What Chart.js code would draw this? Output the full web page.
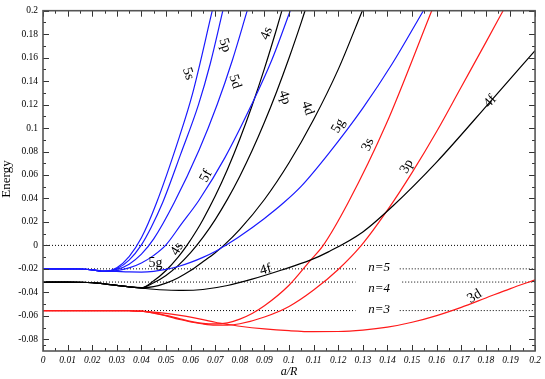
<!DOCTYPE HTML>
<html lang="en">
<head>
  <meta http-equiv="content-type" content="text/html; charset=UTF-8">
  <script src="https://cdn.jsdelivr.net/npm/chart.js"></script>
  <style>
    html, body { margin:0; padding:0; background:#fff; }
    canvas { display:block; }
  </style>
</head>
<body>
  <canvas id="chart" width="545" height="379" style="width:545px;height:379px"></canvas>

  <script>
    // Tick labels //
    const xTicks = [0, 0.01, 0.02, 0.03, 0.04, 0.05, 0.06, 0.07, 0.08, 0.09, 0.1,
                    0.11, 0.12, 0.13, 0.14, 0.15, 0.16, 0.17, 0.18, 0.19, 0.2];
    const yTicks = [-0.08, -0.06, -0.04, -0.02, 0, 0.02, 0.04, 0.06, 0.08, 0.1,
                    0.12, 0.14, 0.16, 0.18, 0.2];

    // Reference levels (dotted), [a/R, Energy], null = gap for the n label
    const zeroLine = [[0, 0], [0.2, 0]];
    const levelN5 = [[0, -0.02], [0.128, -0.02], [0.136, null], [0.145, -0.02], [0.2, -0.02]];
    const levelN4 = [[0, -0.03125], [0.127, -0.03125], [0.136, null], [0.146, -0.03125], [0.2, -0.03125]];
    const levelN3 = [[0, -0.05556], [0.127, -0.05556], [0.136, null], [0.145, -0.05556], [0.2, -0.05556]];

    // n = 5 (blue)
    const e5s = [[0,-0.02],[0.01,-0.02],[0.015,-0.0201],[0.02,-0.0208],[0.025,-0.0222],
      [0.03,-0.019],[0.035,-0.0095],[0.04,0.0065],[0.046,0.0355],[0.0554,0.0923],[0.0607,0.1287],[0.0688,0.2]];
    const e5p = [[0,-0.02],[0.01,-0.02],[0.015,-0.0201],[0.02,-0.0208],[0.025,-0.0222],
      [0.03,-0.0198],[0.035,-0.0125],[0.04,0.0005],[0.044,0.0155],[0.0486,0.0363],[0.056,0.078],[0.0632,0.12],[0.068,0.155],[0.0731,0.2]];
    const e5d = [[0,-0.02],[0.01,-0.02],[0.015,-0.0201],[0.02,-0.0208],[0.025,-0.0222],
      [0.03,-0.0205],[0.035,-0.016],[0.04,-0.0075],[0.045,0.0055],[0.0533,0.0363],[0.0634,0.081],[0.0708,0.12],[0.077,0.158],[0.083,0.2]];
    const e5f = [[0,-0.02],[0.01,-0.02],[0.015,-0.0201],[0.02,-0.0208],[0.025,-0.0222],
      [0.03,-0.0215],[0.035,-0.0192],[0.04,-0.015],[0.045,-0.0085],[0.05,0.0005],[0.056,0.0175],[0.0634,0.0385],
      [0.074,0.075],[0.0848,0.12],[0.093,0.158],[0.1005,0.2]];
    const e5g = [[0,-0.02],[0.01,-0.02],[0.015,-0.0201],[0.02,-0.0208],[0.025,-0.0218],
      [0.03,-0.0222],[0.035,-0.0226],[0.04,-0.0227],[0.045,-0.0221],[0.05,-0.0205],[0.055,-0.018],[0.06,-0.0145],
      [0.065,-0.0102],[0.07,-0.0052],[0.0742,0],[0.08,0.0078],[0.09,0.023],[0.0978,0.0363],[0.105,0.0505],
      [0.116,0.078],[0.13,0.117],[0.142,0.155],[0.1546,0.2]];

    // n = 4 (black)
    const e4s = [[0,-0.03125],[0.01,-0.03125],[0.015,-0.0314],[0.02,-0.0318],[0.025,-0.0328],[0.03,-0.0341],[0.035,-0.0354],
      [0.04,-0.0362],[0.045,-0.0302],[0.05,-0.0214],[0.055,-0.0098],[0.0585,0],[0.0625,0.0129],[0.065,0.0219],
      [0.07,0.042],[0.075,0.0649],[0.08,0.0906],[0.085,0.1192],[0.09,0.1506],[0.095,0.1848],[0.0971,0.2]];
    const e4p = [[0,-0.03125],[0.01,-0.03125],[0.015,-0.0314],[0.02,-0.0318],[0.025,-0.0328],[0.03,-0.0341],[0.035,-0.0354],
      [0.04,-0.036],[0.045,-0.0318],[0.05,-0.0256],[0.055,-0.017],[0.06,-0.0062],[0.065,0.0068],[0.07,0.022],
      [0.075,0.0394],[0.08,0.059],[0.085,0.0808],[0.09,0.1049],[0.095,0.1312],[0.1,0.1597],[0.105,0.1903],[0.1065,0.2]];
    const e4d = [[0,-0.03125],[0.01,-0.03125],[0.015,-0.0314],[0.02,-0.0318],[0.025,-0.0328],[0.03,-0.0341],[0.035,-0.0354],
      [0.04,-0.0362],[0.045,-0.0352],[0.05,-0.0322],[0.055,-0.0275],[0.06,-0.0215],[0.065,-0.014],[0.07,-0.0062],
      [0.0735,0],[0.08,0.0136],[0.09,0.0391],[0.1,0.0704],[0.11,0.1073],[0.12,0.15],[0.1298,0.2]];
    const e4f = [[0,-0.03125],[0.01,-0.03125],[0.015,-0.0314],[0.02,-0.0318],[0.025,-0.0328],[0.03,-0.0341],[0.035,-0.0354],
      [0.04,-0.0364],[0.045,-0.0374],[0.05,-0.038],[0.0567,-0.0384],[0.065,-0.0376],[0.075,-0.0342],[0.085,-0.0288],
      [0.097,-0.021],[0.1086,-0.0126],[0.116,-0.0055],[0.13,0.0115],[0.1422,0.0336],[0.16,0.071],[0.182,0.123],[0.2,0.166]];

    // n = 3 (red)
    const e3s = [[0,-0.05556],[0.02,-0.05556],[0.03,-0.0556],[0.035,-0.0557],[0.04,-0.0561],
      [0.045,-0.0575],[0.05,-0.0597],[0.055,-0.0622],[0.06,-0.0647],[0.065,-0.0664],[0.07,-0.0669],[0.075,-0.066],
      [0.08,-0.0628],[0.085,-0.058],[0.09,-0.0515],[0.1,-0.034],[0.1086,-0.013],[0.1139,0],[0.124,0.0363],
      [0.1395,0.1034],[0.158,0.2]];
    const e3p = [[0,-0.05556],[0.02,-0.05556],[0.03,-0.0556],[0.035,-0.0557],[0.04,-0.0561],
      [0.045,-0.0577],[0.05,-0.0601],[0.055,-0.0628],[0.06,-0.0653],[0.065,-0.067],[0.07,-0.0679],[0.075,-0.0679],
      [0.08,-0.0668],[0.09,-0.061],[0.1,-0.052],[0.11,-0.038],[0.12,-0.0205],[0.1294,0],[0.14,0.03],[0.15,0.062],
      [0.16,0.097],[0.17,0.135],[0.18,0.173],[0.187,0.2]];
    const e3d = [[0,-0.05556],[0.02,-0.05556],[0.03,-0.0556],[0.035,-0.0557],[0.04,-0.0561],
      [0.045,-0.0568],[0.05,-0.058],[0.055,-0.0595],[0.06,-0.0612],[0.065,-0.0632],[0.07,-0.0655],[0.075,-0.0673],
      [0.08,-0.0689],[0.09,-0.0712],[0.1,-0.0727],[0.11,-0.0735],[0.12,-0.0734],[0.13,-0.0722],[0.14,-0.0697],
      [0.15,-0.0655],[0.16,-0.0598],[0.17,-0.0528],[0.18,-0.0448],[0.19,-0.0368],[0.2,-0.0294]];

    // Annotations: text, a/R, Energy, rotation (deg)
    const curveLabels = [
      ['5s', 0.0590, 0.1463, 72], ['5p', 0.0739, 0.1706, 72], ['5d', 0.0780, 0.1396, 72],
      ['4s', 0.0909, 0.1807, -68], ['5f', 0.0663, 0.0590, -62], ['4p', 0.0982, 0.1261, 72],
      ['4d', 0.1075, 0.1169, 72], ['5g', 0.1200, 0.1018, -60], ['3s', 0.1321, 0.0858, -68],
      ['3p', 0.1479, 0.0673, -62], ['4f', 0.1818, 0.1227, -48], ['3d', 0.1754, -0.0434, -32],
      ['5g', 0.0457, -0.0157, 0], ['4s', 0.0545, -0.0031, -60], ['4f', 0.0905, -0.0207, -15],
    ];
    const levelLabels = [['n=5', 0.1366, -0.0191], ['n=4', 0.1366, -0.0368], ['n=3', 0.1366, -0.0543]];

    const SERIF = '"Liberation Serif", "Times New Roman", serif';
    const BLUE = '#1a1aff', BLACK = '#000000', RED = '#ff1a1a';

    function pts(arr) { return arr.map(([x, y]) => ({x: x, y: y})); }
    function curve(arr, color) {
        return { data: pts(arr), borderColor: color, borderWidth: 1.2, pointRadius: 0,
                 cubicInterpolationMode: 'monotone', fill: false };
    }
    function dotted(arr) {
        return { data: pts(arr), borderColor: '#000', borderWidth: 1, borderDash: [1, 2],
                 pointRadius: 0, spanGaps: false, fill: false };
    }

    const frame = {
        id: 'frame',
        afterDraw(chart) {
            const ctx = chart.ctx, ca = chart.chartArea;
            const xs = chart.scales.x, ys = chart.scales.y;
            ctx.save();
            // inward ticks on four sides
            ctx.strokeStyle = '#333'; ctx.lineWidth = 1;
            ctx.beginPath();
            xTicks.forEach((v, i) => {
                const px = Math.round(xs.getPixelForValue(v)) + 0.5;
                ctx.moveTo(px, ca.bottom); ctx.lineTo(px, ca.bottom - 6);
                ctx.moveTo(px, ca.top); ctx.lineTo(px, ca.top + 6);
                if (i < xTicks.length - 1) {
                    const pm = Math.round(xs.getPixelForValue((v + xTicks[i+1]) / 2)) + 0.5;
                    ctx.moveTo(pm, ca.bottom); ctx.lineTo(pm, ca.bottom - 3);
                    ctx.moveTo(pm, ca.top); ctx.lineTo(pm, ca.top + 3);
                }
            });
            const yAll = [-0.09].concat(yTicks);
            yAll.forEach((v, i) => {
                const py = Math.round(ys.getPixelForValue(v)) + 0.5;
                if (i > 0) {
                    ctx.moveTo(ca.left, py); ctx.lineTo(ca.left + 6, py);
                    ctx.moveTo(ca.right, py); ctx.lineTo(ca.right - 6, py);
                }
                if (i < yAll.length - 1) {
                    const pm = Math.round(ys.getPixelForValue((v + yAll[i+1]) / 2)) + 0.5;
                    ctx.moveTo(ca.left, pm); ctx.lineTo(ca.left + 3, pm);
                    ctx.moveTo(ca.right, pm); ctx.lineTo(ca.right - 3, pm);
                }
            });
            ctx.stroke();
            // frame
            ctx.strokeStyle = '#555'; ctx.lineWidth = 1.6;
            ctx.strokeRect(ca.left, ca.top, ca.right - ca.left, ca.bottom - ca.top);

            // curve labels
            ctx.fillStyle = '#000';
            ctx.textAlign = 'center'; ctx.textBaseline = 'middle';
            ctx.font = '14px ' + SERIF;
            curveLabels.forEach(([t, x, y, r]) => {
                ctx.save();
                ctx.translate(xs.getPixelForValue(x), ys.getPixelForValue(y));
                ctx.rotate(r * Math.PI / 180);
                ctx.fillText(t, 0, 0);
                ctx.restore();
            });
            ctx.font = 'italic 13px ' + SERIF;
            levelLabels.forEach(([t, x, y]) => {
                ctx.fillText(t, xs.getPixelForValue(x), ys.getPixelForValue(y));
            });

            // axis titles
            ctx.font = 'italic 12px ' + SERIF;
            ctx.fillText('a/R', 289, 372);
            ctx.save();
            ctx.translate(10, 179);
            ctx.rotate(-Math.PI / 2);
            ctx.font = '13px ' + SERIF;
            ctx.textBaseline = 'alphabetic';
            ctx.fillText('Energy', 0, 0);
            ctx.restore();
            ctx.restore();
        }
    };

    function main() {
        const datasets = [
            curve(e5s, BLUE), curve(e5p, BLUE), curve(e5d, BLUE), curve(e5f, BLUE), curve(e5g, BLUE),
            curve(e4s, BLACK), curve(e4p, BLACK), curve(e4d, BLACK), curve(e4f, BLACK),
            curve(e3s, RED), curve(e3p, RED), curve(e3d, RED),
            dotted(zeroLine), dotted(levelN5), dotted(levelN4), dotted(levelN3),
        ];
        new Chart(document.getElementById('chart'), {
            type: 'line',
            data: { datasets: datasets },
            options: {
                responsive: false,
                animation: false,
                layout: { padding: { top: 5, right: 7, left: 0, bottom: 0 } },
                plugins: { legend: { display: false }, tooltip: { enabled: false } },
                scales: {
                    x: {
                        type: 'linear', min: 0, max: 0.2,
                        grid: { display: false, drawTicks: false },
                        border: { display: false },
                        afterBuildTicks: s => { s.ticks = xTicks.map(v => ({value: v})); },
                        afterFit: s => { s.height = 28; },
                        ticks: {
                            padding: 4, maxRotation: 0, autoSkip: false, color: '#000',
                            font: { family: SERIF, size: 9.5, style: 'italic' },
                            callback: v => String(+v.toFixed(2)),
                        },
                    },
                    y: {
                        type: 'linear', min: -0.09, max: 0.2,
                        grid: { display: false, drawTicks: false },
                        border: { display: false },
                        afterBuildTicks: s => { s.ticks = yTicks.map(v => ({value: v})); },
                        afterFit: s => { s.width = 43; },
                        ticks: {
                            padding: 5, autoSkip: false, color: '#000',
                            font: { family: SERIF, size: 9.5 },
                            callback: v => String(+v.toFixed(2)),
                        },
                    },
                },
            },
            plugins: [frame],
        });
    }

    window.addEventListener('DOMContentLoaded', main);
  </script>
</body>
</html>
